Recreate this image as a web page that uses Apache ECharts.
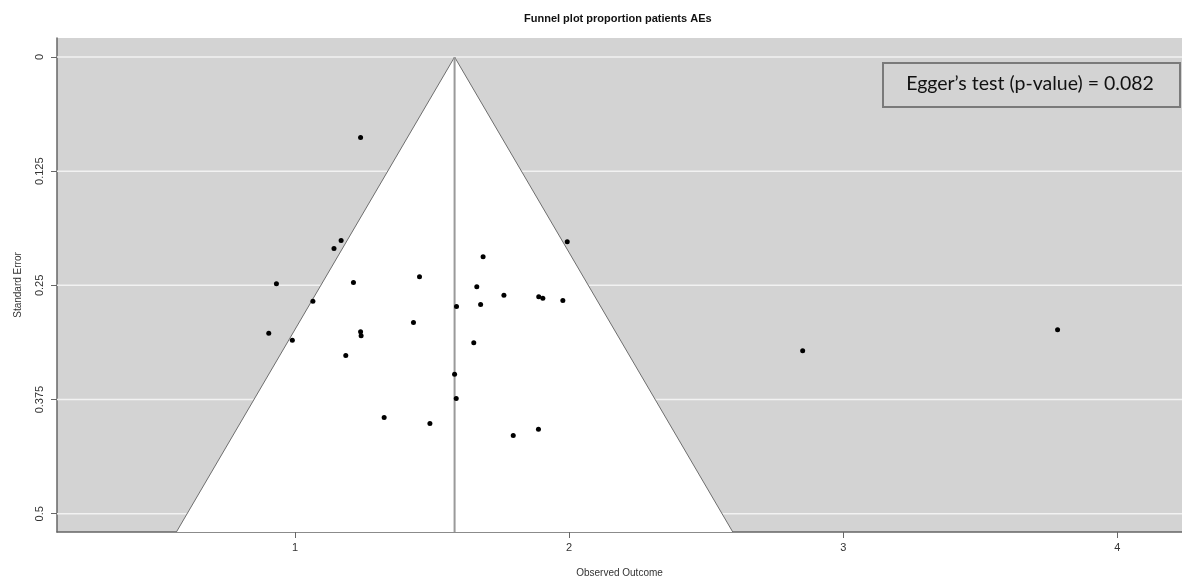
<!DOCTYPE html>
<html>
<head>
<meta charset="utf-8">
<script src="https://cdn.jsdelivr.net/npm/echarts@6/dist/echarts.min.js"></script>
<style>
  html, body { margin: 0; padding: 0; background: #fff; }
  #chart { width: 1182px; height: 586px; }
</style>
</head>
<body>
<div id="chart"></div>
<script>
// observed outcome (x) and standard error (y) per study
const outcome = [
  1.239, 1.168, 1.142, 0.932, 1.213, 1.454, 1.065, 0.904, 0.990, 1.239,
  1.241, 1.185, 1.432, 1.993, 1.686, 1.663, 1.762, 1.889, 1.904, 1.977,
  1.677, 1.589, 1.652, 1.582, 1.588, 1.325, 1.492, 1.796, 1.888, 2.852,
  3.782
]
const stdError = [
  0.0881, 0.2009, 0.2096, 0.2483, 0.2468, 0.2406, 0.2673, 0.3023, 0.3100, 0.3008,
  0.3052, 0.3267, 0.2906, 0.2023, 0.2187, 0.2515, 0.2607, 0.2625, 0.2640, 0.2665,
  0.2709, 0.2731, 0.3128, 0.3472, 0.3738, 0.3946, 0.4012, 0.4143, 0.4074, 0.3216,
  0.2986
]

// pooled estimate and funnel corners (bottom-left, apex, bottom-right)
const estimate = 1.582
const funnelX = [0.567, 1.582, 2.597]
const funnelY = [0.520, 0, 0.520]

const xTicks = [1, 2, 3, 4]
const yTicks = [0, 0.125, 0.25, 0.375, 0.5]
const eggerText = 'Egger\u2019s test (p-value) = 0.082'

const xMin = 0.1314, xMax = 4.236
const yMin = -0.0208, yMax = 0.520

const chart = echarts.init(document.getElementById('chart'), null, { renderer: 'canvas' })

const axisText = { color: '#333', fontFamily: 'Liberation Sans', fontSize: 11 }

chart.setOption({
  animation: false,
  title: {
    text: 'Funnel plot proportion patients AEs',
    left: 519,
    top: 8,
    textStyle: { fontFamily: 'Liberation Sans', fontWeight: 'bold', fontSize: 11, color: '#111' }
  },
  grid: {
    left: 57, right: 0, top: 38, bottom: 54,
    show: true, backgroundColor: '#d3d3d3', borderWidth: 0
  },
  xAxis: {
    type: 'value', min: xMin, max: xMax,
    name: 'Observed Outcome', nameLocation: 'middle', nameGap: 36,
    nameTextStyle: { color: '#333', fontFamily: 'Liberation Sans', fontSize: 10 },
    axisLine: { onZero: false, lineStyle: { color: '#666', width: 1.5 } },
    axisTick: { customValues: xTicks, length: 6, lineStyle: { color: '#666' } },
    axisLabel: { customValues: xTicks, margin: 10, ...axisText },
    splitLine: { show: false }
  },
  yAxis: {
    type: 'value', inverse: true, min: yMin, max: yMax,
    name: 'Standard Error', nameLocation: 'middle', nameGap: 34,
    nameTextStyle: { color: '#333', fontFamily: 'Liberation Sans', fontSize: 10 },
    axisLine: { show: true, onZero: false, lineStyle: { color: '#666', width: 1.5 } },
    axisTick: { show: true, customValues: yTicks, length: 6, lineStyle: { color: '#666' } },
    axisLabel: { customValues: yTicks, rotate: 90, margin: 12, ...axisText },
    splitLine: { show: false }
  },
  graphic: [
    {
      type: 'rect', left: 882, top: 62, z: 100,
      shape: { width: 297, height: 44 },
      style: { fill: '#d3d3d3', stroke: '#7a7a7a', lineWidth: 2 }
    },
    {
      type: 'text', x: 1030, y: 84, z: 101,
      style: {
        text: eggerText, align: 'center', verticalAlign: 'middle',
        font: '19.5px Lato', fill: '#111'
      }
    }
  ],
  series: [
    {
      // white grid lines behind the funnel
      type: 'custom', z: 1, silent: true,
      data: yTicks.map(v => [v]),
      renderItem(params, api) {
        const v = api.value(0)
        const a = api.coord([xMin, v])
        const b = api.coord([xMax, v])
        return {
          type: 'line',
          shape: { x1: a[0], y1: a[1], x2: b[0], y2: b[1] },
          style: { stroke: '#f2f2f2', lineWidth: 1.5 }
        }
      }
    },
    {
      // white funnel region
      type: 'custom', z: 2, silent: true,
      data: [0],
      renderItem(params, api) {
        const pts = funnelX.map((x, i) => api.coord([x, funnelY[i]]))
        return {
          type: 'group',
          children: [
            { type: 'polygon', shape: { points: pts }, style: { fill: '#fff' } },
            { type: 'polyline', shape: { points: pts }, style: { fill: null, stroke: '#6e6e6e', lineWidth: 1 } }
          ]
        }
      }
    },
    {
      type: 'line', z: 3, silent: true, symbol: 'none',
      data: [[estimate, 0], [estimate, yMax]],
      lineStyle: { color: '#9a9a9a', width: 2 }
    },
    {
      type: 'scatter', z: 4, symbol: 'circle', symbolSize: 5,
      data: outcome.map((x, i) => [x, stdError[i]]),
      itemStyle: { color: '#000', opacity: 1 }
    }
  ]
})
</script>
</body>
</html>
